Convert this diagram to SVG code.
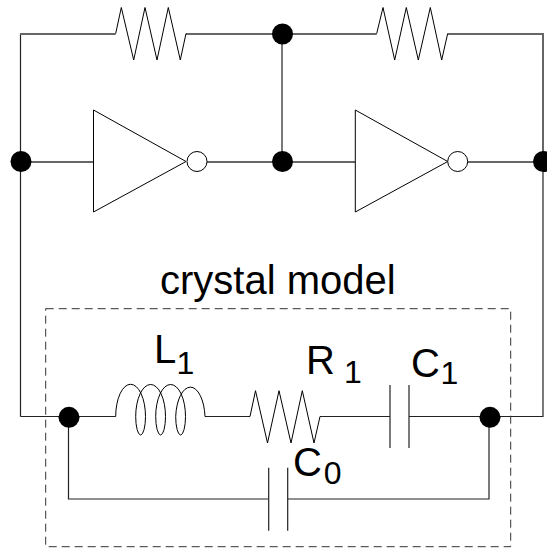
<svg xmlns="http://www.w3.org/2000/svg" width="547" height="550" viewBox="0 0 547 550">
<style>
.w{fill:none;stroke:#000;stroke-width:1}
.g{fill:none;stroke:#222;stroke-width:1.2}
.h{fill:none;stroke:#666;stroke-width:2}
.d{fill:#000;stroke:none}
.b{fill:#fff;stroke:#000;stroke-width:1}
text{font-family:"Liberation Sans",Arial,sans-serif;fill:#000}
.t{font-size:40px}
.s{font-size:32px}
</style>
<rect width="547" height="550" fill="#fff"/>
<g id="connectors">
<path class="g" d="M20.5 416.5V34M282 34V161.5M543 161.5V416.5H490"/>
<path class="h" d="M20 34H115.7M186 34H376.7M447.7 34H543V161.5M21 162H93.5M207 162H355.3M467.7 162H543"/>
<path class="g" d="M20.5 416.5H115.7M205 416.5H250M320 416.5H390M409 416.5H490M68.5 417V499H268.7M287.7 499H489V417"/>
</g>
<g id="r-top-left"><path class="w" d="M115.7 33.5L121.3 7.5L133.7 60L145 7.5L157 60L168.3 7.5L180.3 60L186 33.5"/></g>
<g id="r-top-right"><path class="w" d="M376.7 33.5L383 7.5L394.7 60L406.3 7.5L418.3 60L430.3 7.5L441.7 60L447.7 33.5"/></g>
<g id="inv-1"><path class="b" d="M93.5 110V212L186 161.5Z"/><circle class="b" cx="197" cy="161.5" r="10"/></g>
<g id="inv-2"><path class="b" d="M355.3 110V212L447.7 161.5Z"/><circle class="b" cx="457.7" cy="161.5" r="10"/></g>
<g id="node-top"><circle class="d" cx="282.5" cy="34" r="10.5"/></g>
<g id="node-left"><circle class="d" cx="21" cy="161.5" r="10.5"/></g>
<g id="node-mid"><circle class="d" cx="282.5" cy="161.5" r="10.5"/></g>
<g id="node-right"><circle class="d" cx="543.5" cy="161.5" r="10.5"/></g>
<g id="crystal-model">
<rect x="45.7" y="308.7" width="465" height="238" fill="none" stroke="#333" stroke-width="1" stroke-dasharray="8 5"/>
<text x="160" y="294" class="t">crystal model</text>
</g>
<g id="L1"><path class="w" d="M115.7 416.5A14.8 32 0 0 1 145.5 416.5A4.9 18.5 0 0 1 135.7 416.5A14.9 32 0 0 1 165.5 416.5A4.9 18.5 0 0 1 155.7 416.5A14.9 32 0 0 1 185.5 416.5A4.9 18.5 0 0 1 175.7 416.5A14.7 32 0 0 1 205 416.5"/>
<text x="154" y="363" class="t">L</text><text x="176.5" y="374" class="s">1</text></g>
<g id="R1"><path class="w" d="M250 416.5L255.5 390.7L267.5 443L279 390.7L291 443L302.3 390.7L314 443L320 416.5"/>
<text x="306" y="374" class="t">R</text><text x="344" y="382.7" class="s">1</text></g>
<g id="C1"><path class="g" d="M390 385V448M409 385V448"/>
<text x="411" y="376.7" class="t">C</text><text x="440.5" y="384" class="s">1</text></g>
<g id="C0"><path class="g" d="M268.7 467.7V530.7M287.7 467.7V530.7"/>
<text x="293" y="476" class="t">C</text><text x="323.7" y="484" class="s">0</text></g>
<g id="node-a"><circle class="d" cx="69" cy="417.3" r="10.5"/></g>
<g id="node-b"><circle class="d" cx="490" cy="417.3" r="10.5"/></g>
</svg>
